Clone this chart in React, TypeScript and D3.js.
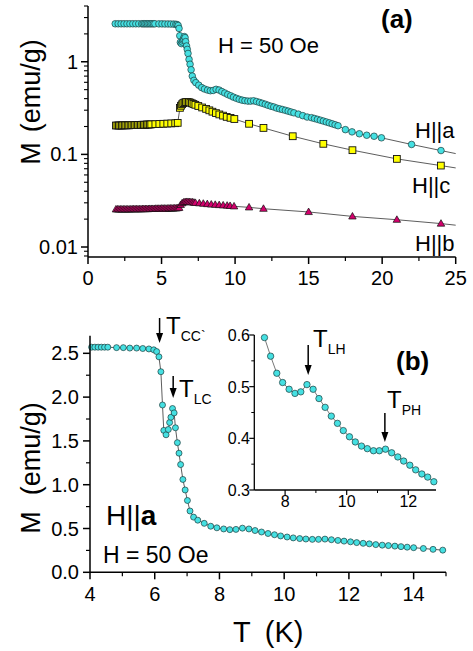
import React from 'react';
import * as d3 from 'd3';

// ---------- Panel (a): H||a (low-T part, then shared with panel b, then high-T) ----------
const aLowT = [1.85, 2.05, 2.25, 2.45, 2.65, 2.85, 3.05, 3.25, 3.45, 3.65, 3.75, 3.85, 3.95];
const aLowM = [2.57, 2.57, 2.57, 2.57, 2.57, 2.57, 2.57, 2.57, 2.57, 2.57, 2.57, 2.57, 2.57];
const aHighT = [15.2, 15.4, 15.6, 15.8, 16.0, 16.2, 16.4, 16.6, 16.8, 17.0, 17.5, 17.95, 18.45, 18.95, 19.45, 19.95, 22.0, 24.0];
const aHighM = [0.249, 0.244, 0.239, 0.234, 0.229, 0.224, 0.219, 0.214, 0.209, 0.204, 0.185, 0.175, 0.167, 0.161, 0.157, 0.151, 0.128, 0.110];
const aGuideEnd = [25, 0.102];

// ---------- Panel (b) / inset: H||a, 4–15 K ----------
const bT = [4.05, 4.15, 4.25, 4.35, 4.45, 4.55, 4.82, 5.03, 5.23, 5.44, 5.63, 5.82, 5.97, 6.06,
  6.13, 6.19, 6.24, 6.28, 6.35, 6.42, 6.46, 6.50, 6.55, 6.60, 6.64, 6.70, 6.75, 6.80, 6.87, 6.94, 7.01, 7.09, 7.20,
  7.33, 7.53, 7.73, 7.92, 8.13, 8.32, 8.51, 8.71, 8.91, 9.10, 9.30, 9.50, 9.70, 9.89, 10.09, 10.28, 10.48, 10.67,
  10.87, 11.06, 11.26, 11.46, 11.66, 11.85, 12.05, 12.24, 12.44, 12.63, 12.83,
  13.03, 13.22, 13.42, 13.61, 13.80, 14.00, 14.30, 14.60, 14.90];
const bM = [2.57, 2.57, 2.57, 2.57, 2.57, 2.57, 2.565, 2.565, 2.56, 2.56, 2.555, 2.55, 2.54, 2.52,
  2.46, 2.29, 1.91, 1.62, 1.57, 1.63, 1.71, 1.77, 1.87, 1.82, 1.65, 1.48, 1.36, 1.23, 1.06, 0.94, 0.82, 0.70, 0.63,
  0.595, 0.559, 0.526, 0.508, 0.495, 0.487, 0.490, 0.504, 0.495, 0.477, 0.460, 0.443, 0.429, 0.415, 0.403, 0.393,
  0.385, 0.380, 0.376, 0.376, 0.379, 0.372, 0.364, 0.356, 0.348, 0.339, 0.331, 0.325, 0.316,
  0.310, 0.305, 0.299, 0.293, 0.287, 0.281, 0.272, 0.262, 0.253];

// ---------- Panel (a): H||c ----------
const cT = [1.9, 2.0, 2.1, 2.2, 2.3, 2.4, 2.5, 2.6, 2.7, 2.8, 2.9, 3.0, 3.1, 3.2, 3.3, 3.4, 3.5, 3.6, 3.7, 3.8, 3.9, 4.0, 4.1, 4.2, 4.3,
  4.58, 4.85, 5.12, 5.39, 5.66, 5.93, 6.10,
  6.25, 6.32, 6.40, 6.48, 6.57, 6.66, 6.76, 6.86, 6.96, 7.06, 7.17, 7.30, 7.50, 7.76, 8.03, 8.25, 8.46, 8.70, 8.93, 9.18, 9.43, 9.69, 9.95,
  10.95, 11.93, 13.92, 16.0, 17.98, 21.0, 23.99];
const cM = [0.205, 0.205, 0.205, 0.205, 0.205, 0.206, 0.206, 0.206, 0.206, 0.206, 0.207, 0.207, 0.207, 0.207, 0.208, 0.208, 0.208, 0.208, 0.209, 0.209, 0.209, 0.210, 0.210, 0.210, 0.211,
  0.212, 0.213, 0.214, 0.215, 0.216, 0.217, 0.219,
  0.318, 0.335, 0.348, 0.358, 0.364, 0.367, 0.368, 0.366, 0.362, 0.356, 0.350, 0.343, 0.333, 0.321, 0.310, 0.299, 0.289, 0.279, 0.270, 0.262, 0.254, 0.248, 0.241,
  0.214, 0.193, 0.157, 0.130, 0.111, 0.0894, 0.0757];
const cGuideEnd = [25, 0.0714];

// ---------- Panel (a): H||b ----------
const hbT = [1.9, 2.0, 2.1, 2.2, 2.3, 2.4, 2.5, 2.6, 2.7, 2.8, 2.9, 3.0, 3.1, 3.2, 3.3, 3.4, 3.5, 3.6, 3.7, 3.8, 3.9, 4.0, 4.1, 4.2,
  4.3, 4.4, 4.5, 4.6, 4.7, 4.8, 4.9, 5.0, 5.1, 5.2, 5.3, 5.4, 5.5, 5.6, 5.7, 5.8, 5.9, 6.0, 6.1, 6.2,
  6.3, 6.4, 6.5, 6.6, 6.7, 6.8, 6.9, 7.0, 7.1, 7.2, 7.3, 7.57, 7.84, 8.11, 8.38, 8.65, 8.92, 9.19, 9.46, 9.66, 9.93,
  10.95, 11.93, 15.0, 17.98, 21.0, 24.0];
const hbM = [0.0255, 0.0255, 0.0255, 0.0255, 0.0255, 0.0255, 0.0255, 0.0255, 0.0255, 0.0255, 0.0255, 0.0256, 0.0256, 0.0256, 0.0256, 0.0256, 0.0256, 0.0256, 0.0257, 0.0257, 0.0257, 0.0257, 0.0257, 0.0258,
  0.0258, 0.0258, 0.0258, 0.0259, 0.0259, 0.0259, 0.0259, 0.0260, 0.0260, 0.0260, 0.0260, 0.0260, 0.0261, 0.0261, 0.0261, 0.0261, 0.0262, 0.0262, 0.0263, 0.0265,
  0.0285, 0.0297, 0.0303, 0.0306, 0.0307, 0.0307, 0.0306, 0.0305, 0.0304, 0.0302, 0.0300, 0.0297, 0.0294, 0.0291, 0.0288, 0.0286, 0.0284, 0.0282, 0.0280, 0.0278, 0.0275,
  0.0268, 0.0259, 0.0239, 0.0214, 0.0197, 0.0179];
const hbGuideEnd = [25, 0.0172];

// ---------- tick values ----------
const aXTicks = [0, 5, 10, 15, 20, 25];
const aXMinor = [2.5, 7.5, 12.5, 17.5, 22.5];
const aYMajor = [0.01, 0.1, 1];
const aYLabels = ['0.01', '0.1', '1'];
const bXTicks = [4, 6, 8, 10, 12, 14];
const bXMinor = [5, 7, 9, 11, 13, 15];
const bYTicks = [0, 0.5, 1.0, 1.5, 2.0, 2.5];
const bYMinor = [0.25, 0.75, 1.25, 1.75, 2.25];
const iXTicks = [8, 10, 12];
const iXMinor = [9, 11];
const iYTicks = [0.3, 0.4, 0.5, 0.6];
const iYMinor = [0.35, 0.45, 0.55];

const FONT = '"Liberation Sans", Arial, Helvetica, sans-serif';
const CYAN = '#45e0e2';
const YELLOW = '#ffff00';
const PINK = '#d3006c';
const EDGE = '#1d3c3c';

const zip = (t: number[], m: number[]) => t.map((v, i) => ({ t: v, m: m[i] }));

function Arrow({ x, y1, y2 }: { x: number; y1: number; y2: number }) {
  return (
    <g>
      <line x1={x} x2={x} y1={y1} y2={y2 - 8} stroke="#000" strokeWidth={1.5} />
      <path d={`M${x - 3.5},${y2 - 10} L${x + 3.5},${y2 - 10} L${x},${y2} Z`} fill="#000" />
    </g>
  );
}

function SubLabel({ x, y, main, sub, fs = 24, sfs = 14 }: any) {
  return (
    <text x={x} y={y} fontFamily={FONT} fontSize={fs}>
      {main}
      <tspan fontSize={sfs} dy={7}>{sub}</tspan>
    </text>
  );
}

export default function App() {
  // Panel (a)
  const xA = d3.scaleLinear().domain([0, 25]).range([88, 455.7]);
  const yA = d3.scaleLog().domain([0.0078, 4.0]).range([257, 6]);
  // Panel (b)
  const xB = d3.scaleLinear().domain([4, 15]).range([90, 446]);
  const yB = d3.scaleLinear().domain([0, 2.7]).range([572.3, 335.8]);
  // Inset
  const xI = d3.scaleLinear().domain([7, 12.9]).range([254.3, 436]);
  const yI = d3.scaleLinear().domain([0.3, 0.6]).range([490, 335]);

  const aData = [...zip(aLowT, aLowM), ...zip(bT, bM), ...zip(aHighT, aHighM)];
  const cData = zip(cT, cM);
  const hbData = zip(hbT, hbM);
  const bData = zip(bT, bM);
  const iData = bData.filter(d => d.t >= 7.3 && d.t <= 12.9);

  const lineA = d3.line<{ t: number; m: number }>().x(d => xA(d.t)).y(d => yA(d.m));
  const lineB = d3.line<{ t: number; m: number }>().x(d => xB(d.t)).y(d => yB(d.m));
  const lineI = d3.line<{ t: number; m: number }>().x(d => xI(d.t)).y(d => yI(d.m));

  const aGuide = [...aData, { t: aGuideEnd[0], m: aGuideEnd[1] }];
  const cGuide = [...cData, { t: cGuideEnd[0], m: cGuideEnd[1] }];
  const hbGuide = [...hbData, { t: hbGuideEnd[0], m: hbGuideEnd[1] }];

  const logTicks = yA.ticks().filter(v => v >= 0.0078 && v <= 4.0);
  const isMajor = (v: number) => Math.abs(Math.log10(v) - Math.round(Math.log10(v))) < 1e-6;

  const tri = (cx: number, cy: number, s = 7.5) => {
    const h = s * 0.87;
    return `M${cx},${cy - h * 0.6} L${cx + s / 2},${cy + h * 0.4} L${cx - s / 2},${cy + h * 0.4} Z`;
  };

  const tickFs = 20;

  return (
    <svg width={473} height={651} style={{ position: 'absolute', left: 0, top: 0, background: '#fff' }} fontFamily={FONT}>
      <rect x={0} y={0} width={473} height={651} fill="#fff" />

      {/* ================= Panel (a) ================= */}
      <g>
        {/* guide lines */}
        <path d={lineA(aGuide) || ''} fill="none" stroke="#333" strokeWidth={0.8} />
        <path d={lineA(cGuide) || ''} fill="none" stroke="#333" strokeWidth={0.8} />
        <path d={lineA(hbGuide) || ''} fill="none" stroke="#333" strokeWidth={0.8} />
        {/* H||b triangles */}
        {hbData.map((d, i) => (
          <path key={'hb' + i} d={tri(xA(d.t), yA(d.m))} fill={PINK} stroke="#111" strokeWidth={0.7} />
        ))}
        {/* H||c squares */}
        {cData.map((d, i) => (
          <rect key={'c' + i} x={xA(d.t) - 3.4} y={yA(d.m) - 3.4} width={6.8} height={6.8} fill={YELLOW} stroke="#111" strokeWidth={0.9} />
        ))}
        {/* H||a circles */}
        {aData.map((d, i) => (
          <circle key={'a' + i} cx={xA(d.t)} cy={yA(d.m)} r={3.3} fill={CYAN} stroke={EDGE} strokeWidth={0.7} />
        ))}

        {/* axes */}
        <line x1={xA(0)} x2={xA(25)} y1={257} y2={257} stroke="#000" strokeWidth={1.5} />
        <line x1={88} x2={88} y1={257} y2={6} stroke="#000" strokeWidth={1.5} />
        {aXTicks.map(v => (
          <g key={'axt' + v}>
            <line x1={xA(v)} x2={xA(v)} y1={257} y2={264} stroke="#000" strokeWidth={1.5} />
            <text x={xA(v)} y={285} textAnchor="middle" fontSize={tickFs}>{v}</text>
          </g>
        ))}
        {aXMinor.map(v => (
          <line key={'axm' + v} x1={xA(v)} x2={xA(v)} y1={257} y2={261} stroke="#000" strokeWidth={1.2} />
        ))}
        {logTicks.map(v => (
          <line key={'ayt' + v} x1={88} x2={isMajor(v) ? 81 : 84} y1={yA(v)} y2={yA(v)} stroke="#000" strokeWidth={isMajor(v) ? 1.5 : 1.1} />
        ))}
        {aYMajor.map((v, i) => (
          <text key={'ayl' + v} x={78} y={yA(v) + 7} textAnchor="end" fontSize={tickFs}>{aYLabels[i]}</text>
        ))}
        {/* y title */}
        <text transform={`translate(40,102) rotate(-90)`} textAnchor="middle" fontSize={27}>
          M<tspan dx={10}>(emu/g)</tspan>
        </text>

        {/* labels */}
        <text x={218} y={53} fontSize={22}>H = 50 Oe</text>
        <text x={381} y={28} fontSize={26} fontWeight="bold">(a)</text>
        <text x={415} y={138} fontSize={22}>H||a</text>
        <text x={412} y={193} fontSize={22}>H||c</text>
        <text x={415} y={251} fontSize={22}>H||b</text>
      </g>

      {/* ================= Panel (b) ================= */}
      <g>
        <path d={lineB(bData) || ''} fill="none" stroke="#333" strokeWidth={0.8} />
        {bData.map((d, i) => (
          <circle key={'b' + i} cx={xB(d.t)} cy={yB(d.m)} r={3} fill={CYAN} stroke={EDGE} strokeWidth={0.7} />
        ))}
        <line x1={xB(4)} x2={xB(15)} y1={yB(0)} y2={yB(0)} stroke="#000" strokeWidth={1.5} />
        <line x1={xB(4)} x2={xB(4)} y1={yB(0)} y2={yB(2.7)} stroke="#000" strokeWidth={1.5} />
        {bXTicks.map(v => (
          <g key={'bxt' + v}>
            <line x1={xB(v)} x2={xB(v)} y1={yB(0)} y2={yB(0) + 7} stroke="#000" strokeWidth={1.5} />
            <text x={xB(v)} y={601} textAnchor="middle" fontSize={tickFs}>{v}</text>
          </g>
        ))}
        {bXMinor.map(v => (
          <line key={'bxm' + v} x1={xB(v)} x2={xB(v)} y1={yB(0)} y2={yB(0) + 4} stroke="#000" strokeWidth={1.2} />
        ))}
        {bYTicks.map(v => (
          <g key={'byt' + v}>
            <line x1={xB(4)} x2={xB(4) - 7} y1={yB(v)} y2={yB(v)} stroke="#000" strokeWidth={1.5} />
            <text x={79} y={yB(v) + 7} textAnchor="end" fontSize={tickFs}>{d3.format('.1f')(v)}</text>
          </g>
        ))}
        {bYMinor.map(v => (
          <line key={'bym' + v} x1={xB(4)} x2={xB(4) - 4} y1={yB(v)} y2={yB(v)} stroke="#000" strokeWidth={1.2} />
        ))}
        <text transform={`translate(40,468) rotate(-90)`} textAnchor="middle" fontSize={27}>
          M<tspan dx={16}>(emu/g)</tspan>
        </text>
        <text x={233} y={642} fontSize={29}>T<tspan dx={14}>(K)</tspan></text>

        <Arrow x={xB(6.15)} y1={318} y2={343} />
        <SubLabel x={166} y={334} main="T" sub="CC`" />
        <Arrow x={xB(6.57)} y1={376} y2={398} />
        <SubLabel x={179} y={397} main="T" sub="LC" />

        <text x={106} y={525} fontSize={28}>H||<tspan fontWeight="bold">a</tspan></text>
        <text x={103} y={563} fontSize={23}>H = 50 Oe</text>
        <text x={396} y={370} fontSize={26} fontWeight="bold">(b)</text>
      </g>

      {/* ================= Inset ================= */}
      <g>
        <path d={lineI(iData) || ''} fill="none" stroke="#555" strokeWidth={0.8} />
        {iData.map((d, i) => (
          <circle key={'i' + i} cx={xI(d.t)} cy={yI(d.m)} r={3.2} fill={CYAN} stroke={EDGE} strokeWidth={0.7} />
        ))}
        <line x1={xI(7)} x2={xI(12.9)} y1={yI(0.3)} y2={yI(0.3)} stroke="#000" strokeWidth={1.3} />
        <line x1={xI(7)} x2={xI(7)} y1={yI(0.3)} y2={yI(0.6)} stroke="#000" strokeWidth={1.3} />
        {iXTicks.map(v => (
          <g key={'ixt' + v}>
            <line x1={xI(v)} x2={xI(v)} y1={yI(0.3)} y2={yI(0.3) + 5} stroke="#000" strokeWidth={1.2} />
            <text x={xI(v)} y={507} textAnchor="middle" fontSize={16}>{v}</text>
          </g>
        ))}
        {iXMinor.map(v => (
          <line key={'ixm' + v} x1={xI(v)} x2={xI(v)} y1={yI(0.3)} y2={yI(0.3) + 3} stroke="#000" strokeWidth={1} />
        ))}
        {iYTicks.map(v => (
          <g key={'iyt' + v}>
            <line x1={xI(7)} x2={xI(7) - 5} y1={yI(v)} y2={yI(v)} stroke="#000" strokeWidth={1.2} />
            <text x={250} y={yI(v) + 6} textAnchor="end" fontSize={16}>{d3.format('.1f')(v)}</text>
          </g>
        ))}
        {iYMinor.map(v => (
          <line key={'iym' + v} x1={xI(7)} x2={xI(7) - 3} y1={yI(v)} y2={yI(v)} stroke="#000" strokeWidth={1} />
        ))}
        <Arrow x={xI(8.75)} y1={345} y2={375} />
        <SubLabel x={313} y={347} main="T" sub="LH" />
        <Arrow x={xI(11.24)} y1={413} y2={442} />
        <SubLabel x={387} y={408} main="T" sub="PH" />
      </g>
    </svg>
  );
}
